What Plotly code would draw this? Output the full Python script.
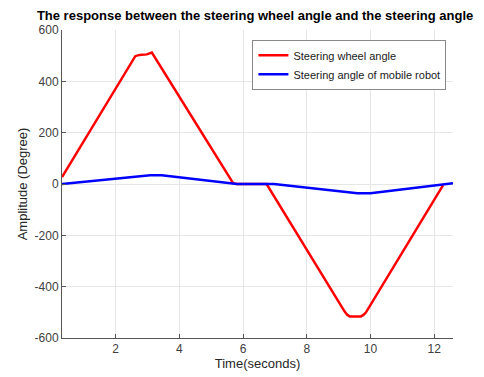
import plotly.graph_objects as go

# Data
red_t = [0.32, 2.62, 2.75, 2.98, 3.14, 5.69, 5.80, 6.74, 9.18, 9.27, 9.35, 9.70, 9.78, 9.86, 12.28]
red_y = [27, 498, 503, 505, 512, 3, 0, 0, -495, -510, -516, -516, -510, -500, -4]

blue_t = [0.32, 3.09, 3.45, 5.81, 6.97, 9.59, 10.0, 12.28, 12.59]
blue_y = [0, 34, 34, 0, 0, -36, -36, 0, 3]

xticks = [2, 4, 6, 8, 10, 12]
yticks = [-600, -400, -200, 0, 200, 400, 600]
ytick_labels = ["-600", "-400", "-200", "0", "200", "400", "600"]

fig = go.Figure()
fig.add_trace(go.Scatter(x=red_t, y=red_y, mode="lines", name="Steering wheel angle",
                         line=dict(color="#ff0000", width=2.5)))
fig.add_trace(go.Scatter(x=blue_t, y=blue_y, mode="lines", name="Steering angle of mobile robot",
                         line=dict(color="#0000ff", width=2.5)))

tick_font = dict(family="Liberation Sans, Arial", size=12, color="#404040")
title_font = dict(family="Liberation Sans, Arial", size=13, color="#262626")
fig.update_layout(
    width=484, height=377,
    margin=dict(l=62, r=31, t=30, b=39, autoexpand=False),
    paper_bgcolor="white", plot_bgcolor="white",
    title=dict(text="<b>The response between the steering wheel angle and the steering angle</b>",
               x=0.527, xanchor="center", y=0.958, yanchor="middle",
               font=dict(family="Liberation Sans, Arial", size=13, color="black")),
    legend=dict(x=0.487, y=0.968, xanchor="left", yanchor="top",
                bgcolor="white", bordercolor="#888888", borderwidth=1,
                font=dict(family="Liberation Sans, Arial", size=11, color="#1a1a1a"),
                tracegroupgap=0, itemwidth=30),
    showlegend=True,
)
fig.update_xaxes(range=[0.32, 12.59], tickvals=xticks, ticks="inside", ticklen=4,
                 tickcolor="#555555", showline=True, linecolor="#555555", linewidth=1,
                 showgrid=True, gridcolor="#e6e6e6", zeroline=False, automargin=False,
                 title=dict(text="Time(seconds)", font=title_font, standoff=2),
                 tickfont=tick_font)
fig.update_yaxes(range=[-600, 600], tickvals=yticks, ticktext=ytick_labels,
                 ticks="inside", ticklen=4,
                 tickcolor="#555555", showline=True, linecolor="#555555", linewidth=1,
                 showgrid=True, gridcolor="#e6e6e6", zeroline=False, automargin=False,
                 title=dict(text="Amplitude (Degree)", font=title_font, standoff=4),
                 tickfont=tick_font)

fig.write_html("out.html", config={"displayModeBar": False},
               post_script="document.body.style.margin='0px';")
